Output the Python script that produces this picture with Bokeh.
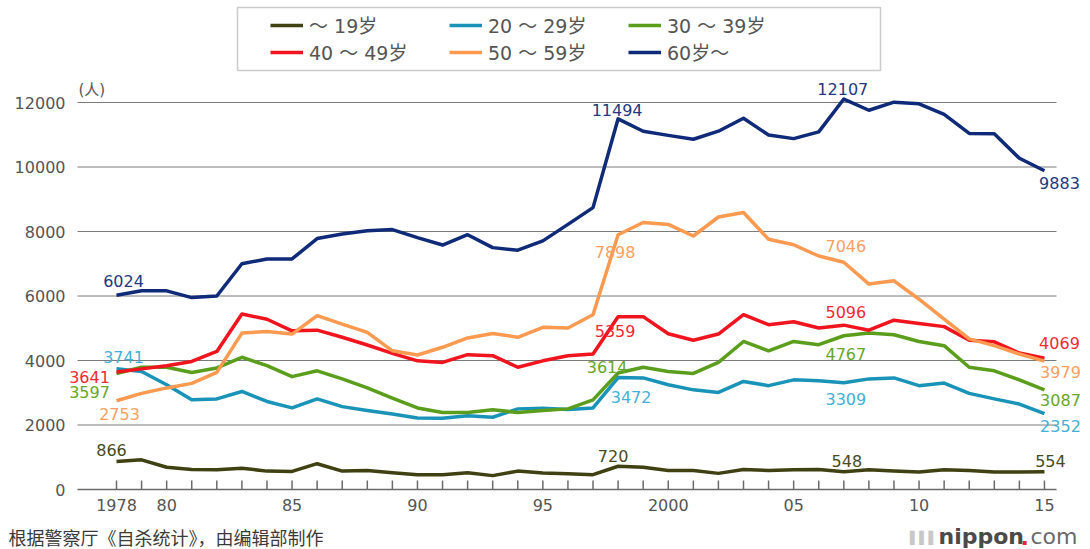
from bokeh.plotting import figure
from bokeh.models import (Range1d, Legend, LegendItem, LabelSet, Label,
                          ColumnDataSource, BoxAnnotation)
from bokeh.core.properties import value
from bokeh.embed import file_html
from bokeh.resources import INLINE

years = list(range(1978, 2016))

age_under19 = [866, 920, 690, 620, 610, 660, 570, 560, 800, 570,
               590, 520, 460, 460, 520, 430, 570, 510, 490, 460,
               720, 690, 590, 590, 500, 620, 590, 610, 620, 548,
               610, 570, 540, 610, 590, 540, 540, 554]
age_20s = [3741, 3660, 3250, 2780, 2810, 3040, 2730, 2530, 2810, 2570,
           2450, 2340, 2220, 2210, 2290, 2240, 2500, 2520, 2480, 2530,
           3472, 3460, 3250, 3090, 3010, 3350, 3220, 3400, 3370, 3309,
           3430, 3460, 3220, 3300, 2980, 2810, 2650, 2352]
age_30s = [3597, 3790, 3790, 3630, 3770, 4100, 3840, 3500, 3680, 3430,
           3150, 2830, 2530, 2390, 2390, 2470, 2390, 2450, 2500, 2780,
           3614, 3790, 3660, 3600, 3940, 4590, 4300, 4590, 4490, 4767,
           4850, 4800, 4590, 4460, 3790, 3680, 3400, 3087]
age_40s = [3641, 3740, 3840, 3970, 4280, 5440, 5280, 4920, 4940, 4720,
           4480, 4220, 3990, 3940, 4180, 4150, 3790, 3990, 4150, 4200,
           5359, 5360, 4830, 4630, 4820, 5420, 5110, 5200, 5010, 5096,
           4940, 5250, 5150, 5050, 4630, 4580, 4230, 4069]
age_50s = [2753, 2980, 3150, 3290, 3630, 4850, 4900, 4820, 5390, 5130,
           4870, 4300, 4170, 4410, 4700, 4840, 4720, 5030, 5010, 5420,
           7898, 8280, 8220, 7860, 8450, 8590, 7760, 7590, 7240, 7046,
           6370, 6470, 5900, 5280, 4670, 4460, 4200, 3979]
age_60plus = [6024, 6160, 6160, 5950, 6000, 7000, 7150, 7150, 7780, 7920,
              8020, 8060, 7810, 7580, 7900, 7500, 7420, 7710, 8220, 8740,
              11494, 11110, 10980, 10860, 11110, 11510, 10990, 10880, 11090, 12107,
              11760, 12010, 11960, 11630, 11040, 11030, 10270, 9883]

series_names = ["～ 19岁", "20 ～ 29岁", "30 ～ 39岁", "40 ～ 49岁", "50 ～ 59岁", "60岁～"]
series_values = [age_under19, age_20s, age_30s, age_40s, age_50s, age_60plus]
label_years = [1978, 1998, 2007, 2015]

y_ticks = [0, 2000, 4000, 6000, 8000, 10000, 12000]
x_major_ticks = [1978, 1980, 1985, 1990, 1995, 2000, 2005, 2010, 2015]
x_tick_labels = ["1978", "80", "85", "90", "95", "2000", "05", "10", "15"]

line_colors = ["#3f4112", "#1a93b9", "#5b9e1d", "#f0141e", "#fb9a50", "#0f2a78"]
label_colors = ["#4a4a1c", "#45b0d6", "#68a62a", "#f22a34", "#fba062", "#22397f"]
# label offsets (px, y up) per series for 1978, 1998, 2007, 2015
label_dx = [[-5, -5, 3, 6], [7, 13, 2, 16], [-27, -11, 2, 16],
            [-27, -3, 2, 15], [3, -3, 2, 16], [7, -1, -1, 15]]
label_dy = [[12, 10, 11, 11], [12, -19, -16, -12], [-19, 6, -18, -10],
            [-5, -14, 13, 15], [-13, -17, 16, -11], [14, 9, 10, -12]]

# ---- layout (pixels) ----
W, H = 1090, 549
PX_1978 = 116.0        # screen x of 1978
PX_YEAR = 25.08        # px per year
PX_Y0 = 489.0          # screen y of value 0
PX_UNIT = 0.03225      # px per person
GRID_L, GRID_R = 77.0, 1056.0

def dx(px):
    return 1978 + (px - PX_1978) / PX_YEAR

def dy(py):
    return (PX_Y0 - py) / PX_UNIT

NUM_FONT = "DejaVu Sans"
CJK_FONT = "'DejaVu Sans', 'Noto Sans CJK SC'"
TEXT_GREY = "#555555"

p = figure(width=W, height=H, output_backend="svg", toolbar_location=None,
           x_range=Range1d(dx(0), dx(W)), y_range=Range1d(dy(H), dy(0)),
           x_axis_location=None, y_axis_location=None, min_border=0)
p.outline_line_color = None
p.background_fill_color = "white"
p.border_fill_color = "white"
p.xgrid.visible = False
p.ygrid.visible = False

# gridlines
grid_vals = [v for v in y_ticks if v != 0]
p.segment(x0=[dx(GRID_L)] * len(grid_vals), y0=grid_vals,
          x1=[dx(GRID_R)] * len(grid_vals), y1=grid_vals,
          line_color="#7a7a7a", line_width=1)
# x axis line and ticks
p.segment(x0=[dx(GRID_L)], y0=[0], x1=[dx(GRID_R)], y1=[0],
          line_color="#6a6a6a", line_width=1.5)
tick_h = 9 / PX_UNIT
p.segment(x0=years, y0=[0] * len(years), x1=years, y1=[tick_h] * len(years),
          line_color="#6a6a6a", line_width=1.5)

# tick labels
ysrc = ColumnDataSource(dict(x=[dx(GRID_L)] * len(y_ticks), y=y_ticks,
                             text=[str(v) for v in y_ticks]))
p.add_layout(LabelSet(x="x", y="y", text="text", source=ysrc, x_offset=-12,
                      text_align="right", text_baseline="middle",
                      text_font=value(NUM_FONT), text_font_size="16px",
                      text_color=TEXT_GREY))
xsrc = ColumnDataSource(dict(x=x_major_ticks, y=[0] * len(x_major_ticks), text=x_tick_labels))
p.add_layout(LabelSet(x="x", y="y", text="text", source=xsrc, y_offset=-15,
                      text_align="center", text_baseline="middle",
                      text_font=value(NUM_FONT), text_font_size="16px",
                      text_color=TEXT_GREY))

items = []
for name, vals, lc, tc, dxs, dys in zip(series_names, series_values, line_colors,
                                         label_colors, label_dx, label_dy):
    r = p.line(years, vals, line_color=lc, line_width=3.5, line_join="round")
    items.append(LegendItem(label=name, renderers=[r]))
    ly = [vals[years.index(y)] for y in label_years]
    src = ColumnDataSource(dict(x=label_years, y=ly, text=[str(v) for v in ly],
                                dx=dxs, dy=dys))
    p.add_layout(LabelSet(x="x", y="y", text="text", source=src,
                          x_offset="dx", y_offset="dy",
                          text_align="center", text_baseline="middle",
                          text_font=value(NUM_FONT), text_font_size="16px",
                          text_color=tc))

legend_box = BoxAnnotation(left=237, right=880, bottom=H - 70, top=H - 7,
                           left_units="screen", right_units="screen",
                           bottom_units="screen", top_units="screen",
                           fill_color="white", fill_alpha=1.0,
                           line_color="#555555", line_width=1.5)
p.add_layout(legend_box)

legend = Legend(items=items, location=(270, H - 65), orientation="horizontal", ncols=3,
                padding=0, margin=0, spacing=0, glyph_width=33, glyph_height=20,
                label_height=20, label_width=140, label_standoff=6,
                label_text_font=CJK_FONT, label_text_font_size="19px",
                label_text_color=TEXT_GREY, border_line_alpha=0,
                background_fill_alpha=0)
p.add_layout(legend)

p.add_layout(Label(x=78, y=H - 89, x_units="screen", y_units="screen", text="(人)",
                   text_font=CJK_FONT, text_font_size="15px", text_color=TEXT_GREY,
                   text_baseline="middle"))
p.add_layout(Label(x=8, y=H - 538, x_units="screen", y_units="screen",
                   text="根据警察厅《自杀统计》，由编辑部制作",
                   text_font=CJK_FONT, text_font_size="18px",
                   text_color="#3a3a3a", text_baseline="middle"))
# nippon.com logo mark (grey bars) and wordmark
p.add_layout(Label(x=905, y=H - 537, x_units="screen", y_units="screen", text="▐▐▐",
                   text_font="DejaVu Sans", text_font_size="12px",
                   text_color="#c8c8c8", text_baseline="middle"))
p.add_layout(Label(x=938, y=H - 536, x_units="screen", y_units="screen", text="nippon",
                   text_font="DejaVu Sans", text_font_style="bold", text_font_size="22px",
                   text_color="#4a4a4a", text_baseline="middle"))
p.add_layout(Label(x=1020, y=H - 536, x_units="screen", y_units="screen", text=".",
                   text_font="DejaVu Sans", text_font_style="bold", text_font_size="22px",
                   text_color="#e8262d", text_baseline="middle"))
p.add_layout(Label(x=1030, y=H - 536, x_units="screen", y_units="screen", text="com",
                   text_font="DejaVu Sans", text_font_size="22px",
                   text_color="#6a6a6a", text_baseline="middle"))

open("out.html", "w").write(file_html(p, INLINE))
